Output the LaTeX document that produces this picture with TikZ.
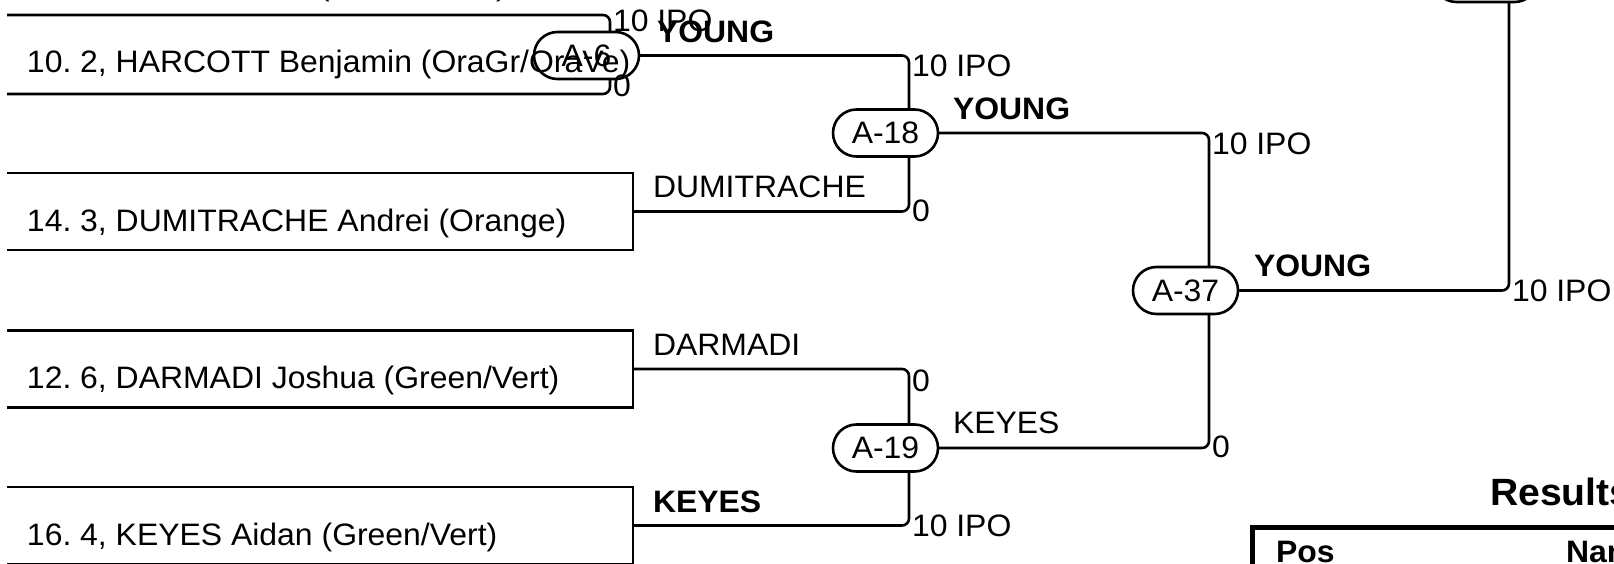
\documentclass[tikz,border=0pt]{standalone}
\usepackage{fontspec}
\setmainfont[FakeStretch=1.03]{Liberation Sans}
\usetikzlibrary{shapes.misc}
\begin{document}
\frenchspacing
\begin{tikzpicture}[x=1pt,y=-1pt,line width=2.6pt,
  every node/.style={inner sep=0pt,outer sep=0pt,font=\fontsize{31}{36}\selectfont},
  match/.style={draw,rounded rectangle,minimum width=105pt,minimum height=47pt,line width=2.6pt},
  conn/.style={rounded corners=7pt},
  lab/.style={anchor=base west},
  blab/.style={anchor=base west,font=\fontsize{31}{36}\selectfont\bfseries},
  entry/.style={draw=none,minimum width=626pt,minimum height=77pt}]
\useasboundingbox (0,0) rectangle (1614,564);
\clip (0,0) rectangle (1614,564);
% match nodes
\node[match] (m6)  at (586.5,55.5) {A-6};
\node[match] (m18) at (885.5,133) {A-18};
\node[match] (m19) at (885.5,448) {A-19};
\node[match] (m37) at (1185.5,290.5) {A-37};
\node[match] (mf)  at (1485.5,-21.5) {};
% entry boxes
\node[entry] (e2) at (320,211.5) {};
\node[entry] (e3) at (320,369) {};
\node[entry] (e4) at (320,525.5) {};
\draw (e2.north west) -- (e2.north east) -- (e2.south east) -- (e2.south west);
\draw (e3.north west) -- (e3.north east) -- (e3.south east) -- (e3.south west);
\draw (e4.north west) -- (e4.north east) -- (e4.south east) -- (e4.south west);
\coordinate (t1) at (7,15);
\coordinate (h1) at (7,94);
% connectors
\draw[conn] (t1) -| ([xshift=23.5pt]m6.north);
\draw[conn] (h1) -| ([xshift=23.5pt]m6.south);
\draw[conn] (m6.east) -| ([xshift=23.5pt]m18.north);
\draw[conn] (e2.east) -| ([xshift=23.5pt]m18.south);
\draw[conn] (e3.east) -| ([xshift=23.5pt]m19.north);
\draw[conn] (e4.east) -| ([xshift=23.5pt]m19.south);
\draw[conn] (m18.east) -| ([xshift=23.5pt]m37.north);
\draw[conn] (m19.east) -| ([xshift=23.5pt]m37.south);
\draw[conn] (m37.east) -| ([xshift=23.5pt]mf.south);
% entry texts
\node[lab] (c1) at (79,-4) {,};
\node[lab] (c2) at (319,-4) {(};
\node[lab] (c3) at (496,-4) {)};
\node[lab] (n1) at (27,73) {10. 2, HARCOTT Benjamin (OraGr/OraVe)};
\node[lab] (n2) at (27,231) {14. 3, DUMITRACHE Andrei (Orange)};
\node[lab] (n3) at (27,388) {12. 6, DARMADI Joshua (Green/Vert)};
\node[lab] (n4) at (27,545) {16. 4, KEYES Aidan (Green/Vert)};
% name labels
\node[blab] (w6)  at (657,43) {YOUNG};
\node[blab] (w18) at (953,120) {YOUNG};
\node[lab]  (w19) at (953,433) {KEYES};
\node[blab] (w37) at (1254,276) {YOUNG};
\node[lab]  (l2) at (653,198) {DUMITRACHE};
\node[lab]  (l3) at (653,355) {DARMADI};
\node[blab] (l4) at (653,512) {KEYES};
% scores
\node[lab] (s6a)  at (613,32) {10 IPO};
\node[lab] (s6b)  at (613,97) {0};
\node[lab] (s18a) at (912,77) {10 IPO};
\node[lab] (s18b) at (912,222) {0};
\node[lab] (s19a) at (912,391) {0};
\node[lab] (s19b) at (912,536) {10 IPO};
\node[lab] (s37a) at (1212,155) {10 IPO};
\node[lab] (s37b) at (1212,457) {0};
\node[lab] (sfb)  at (1512,301) {10 IPO};
% results
\node[anchor=base west,font=\fontsize{38}{44}\selectfont\bfseries] (res) at (1490,505) {Results};
\coordinate (tb) at (1252,580);
\coordinate (tl) at (1252,527);
\coordinate (tr) at (1630,527);
\draw[line width=5pt] (tb) -- (tl) -- (tr);
\node[blab] (pos) at (1276,562) {Pos};
\node[blab] (nam) at (1566,562) {Name};
\end{tikzpicture}
\end{document}
